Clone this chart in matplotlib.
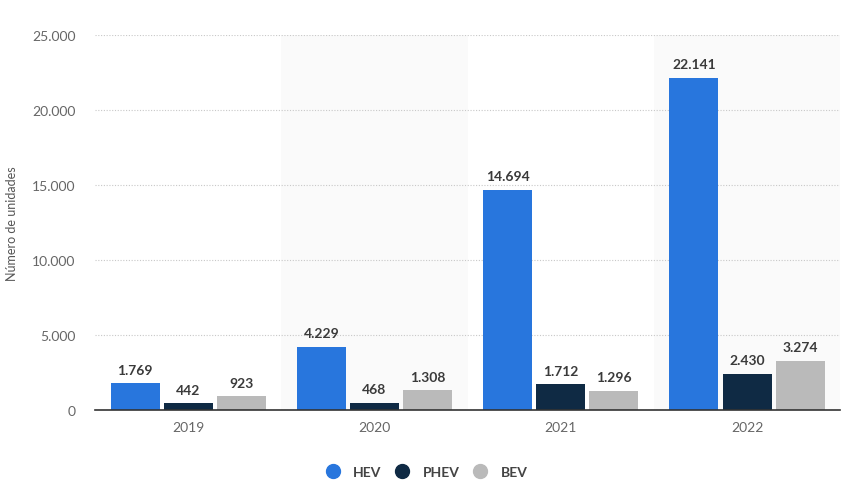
import numpy as np
import matplotlib.pyplot as plt
from matplotlib.lines import Line2D

plt.rcParams['font.family'] = ['Lato', 'DejaVu Sans']

years = ["2019", "2020", "2021", "2022"]
series = ["HEV", "PHEV", "BEV"]
hev = [1769, 4229, 14694, 22141]
phev = [442, 468, 1712, 2430]
bev = [923, 1308, 1296, 3274]
colors = ["#2876dd", "#0f2a44", "#bababa"]

def fmt(v):
    return f"{v:,}".replace(",", ".")

fig = plt.figure(figsize=(8.41, 4.81), dpi=100)
ax = fig.add_axes([0.113, 0.1455, 0.886, 0.7795])

x = np.arange(len(years))
width = 0.263
step = 0.285

# alternating background columns
for i in range(len(years)):
    if i % 2 == 1:
        ax.axvspan(i - 0.5, i + 0.5, color="#fafafa", zorder=0, lw=0)

for j, (name, vals) in enumerate(zip(series, [hev, phev, bev])):
    pos = x + (j - 1) * step
    ax.bar(pos, vals, width, color=colors[j], zorder=2, label=name)
    for p, v in zip(pos, vals):
        ax.text(p, v + 500, fmt(v), ha="center", va="bottom", fontsize=10,
                fontweight="bold", color="#3a3a3a")

ax.set_xlim(-0.5, 3.5)
ax.set_ylim(0, 25000)
ax.set_yticks(np.arange(0, 25001, 5000))
ax.set_yticklabels([fmt(v) for v in range(0, 25001, 5000)])
ax.set_xticks(x)
ax.set_xticklabels(years)
ax.tick_params(axis="both", length=0, labelsize=10, colors="#666666", pad=8)
ax.tick_params(axis="y", pad=14)
ax.yaxis.grid(True, linestyle=(0, (1, 1.5)), color="#c8c8c8", lw=0.8, zorder=1)
for s in ["top", "right", "left"]:
    ax.spines[s].set_visible(False)
ax.spines["bottom"].set_color("#333333")
ax.spines["bottom"].set_linewidth(1.2)
ax.spines["bottom"].set_zorder(3)
ax.set_ylabel("Número de unidades", fontsize=9, color="#555555", labelpad=10)

handles = [Line2D([], [], marker="o", ls="", markersize=10, color=c) for c in colors]
fig.legend(handles, series, loc="center", bbox_to_anchor=(0.503, 0.016),
           ncol=3, frameon=False, prop={"weight": "bold", "size": 10},
           labelcolor="#444444", handletextpad=0.5, columnspacing=0.45)

fig.savefig("out.png", dpi=100)
